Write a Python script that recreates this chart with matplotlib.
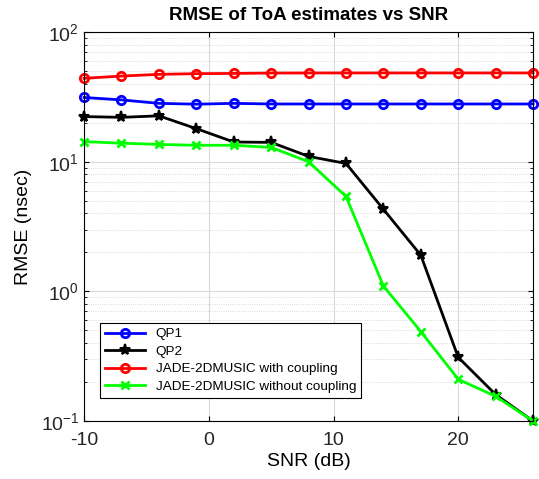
import numpy as np
import matplotlib
matplotlib.use("Agg")
import matplotlib.pyplot as plt

plt.rcParams['font.family'] = ['Liberation Sans', 'DejaVu Sans']
plt.rcParams['axes.unicode_minus'] = False

# SNR values (dB)
snr = [-10, -7, -4, -1, 2, 5, 8, 11, 14, 17, 20, 23, 26]

# RMSE values (nsec) for each method
qp1 = [31.3, 30.0, 28.2, 27.8, 28.2, 27.9, 27.9, 27.9, 27.9, 27.9, 27.9, 27.9, 27.9]
qp2 = [22.3, 22.0, 22.6, 18.0, 14.2, 14.1, 11.0, 9.7, 4.3, 1.9, 0.31, 0.16, 0.10]
jade_coupling = [44.0, 45.8, 47.2, 47.8, 48.0, 48.3, 48.4, 48.4, 48.4, 48.4, 48.4, 48.4, 48.4]
jade_no_coupling = [14.3, 13.9, 13.6, 13.4, 13.4, 12.9, 10.0, 5.4, 1.1, 0.49, 0.21, 0.155, 0.10]

fig = plt.figure(figsize=(5.39, 4.79), dpi=100)
ax = fig.add_axes([0.156, 0.121, 0.833, 0.812])

ax.semilogy(snr, qp1, color='#0000ff', marker='o', lw=2, ms=6, mfc='none', mew=2,
            clip_on=False, label='QP1')
ax.semilogy(snr, qp2, color='black', marker='*', lw=2, ms=8, mew=1.5,
            clip_on=False, label='QP2')
ax.semilogy(snr, jade_coupling, color='#ff0000', marker='o', lw=2, ms=6, mfc='none', mew=2,
            clip_on=False, label='JADE-2DMUSIC with coupling')
ax.semilogy(snr, jade_no_coupling, color='#00ff00', marker='x', lw=2, ms=6, mew=2,
            clip_on=False, label='JADE-2DMUSIC without coupling')

ax.set_xlim(-10, 26)
ax.set_ylim(0.1, 100)
ax.set_xticks([-10, 0, 10, 20])
ax.grid(True, which='major', color='#d9d9d9', lw=0.8)
ax.grid(True, which='minor', color='#d0d0d0', lw=0.6, ls=':')
ax.tick_params(which='both', direction='in', top=True, right=True, labelsize=14,
               labelcolor='#262626')
ax.tick_params(axis='x', pad=8)
for s in ax.spines.values():
    s.set_linewidth(0.8)

ax.set_xlabel('SNR (dB)', fontsize=14, labelpad=3)
ax.set_ylabel('RMSE (nsec)', fontsize=14, labelpad=6)
ax.set_title('RMSE of ToA estimates vs SNR', fontsize=13.5, fontweight='bold', pad=9)

leg = ax.legend(loc='lower left', bbox_to_anchor=(0.035, 0.06), fontsize=9.7, fancybox=False,
                edgecolor='black', framealpha=1, handlelength=3, borderpad=0.35,
                labelspacing=0.38, borderaxespad=0)
leg.get_frame().set_linewidth(0.8)

fig.savefig('out.png', dpi=100)
